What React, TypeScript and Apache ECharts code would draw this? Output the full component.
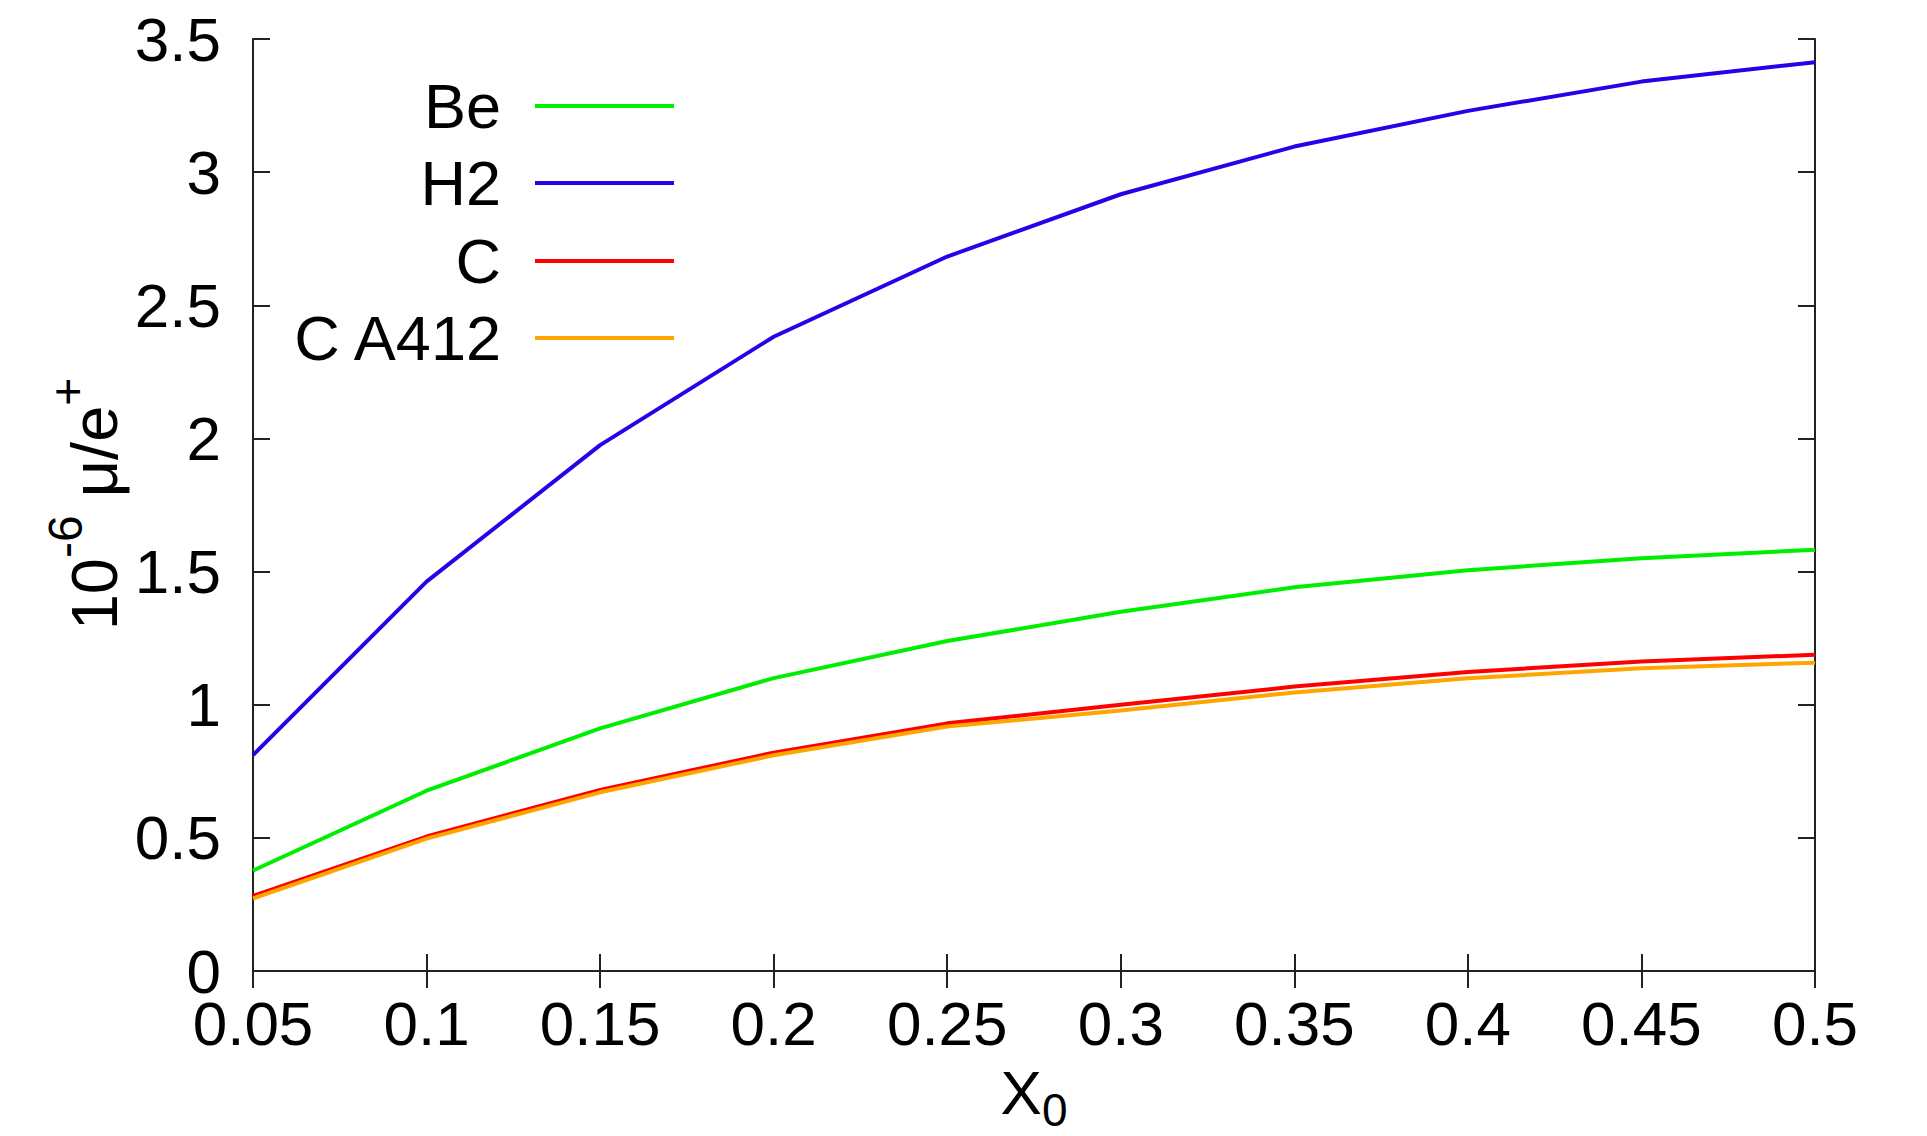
import React, { useEffect, useRef } from "react";
import * as echarts from "echarts";

const X_VALUES = [0.05, 0.1, 0.15, 0.2, 0.25, 0.3, 0.35, 0.4, 0.45, 0.5];
const BE = [0.377, 0.677, 0.911, 1.1, 1.239, 1.349, 1.441, 1.505, 1.55, 1.582];
const H2 = [0.811, 1.462, 1.975, 2.382, 2.683, 2.917, 3.096, 3.23, 3.34, 3.413];
const C = [0.282, 0.505, 0.68, 0.82, 0.93, 1.0, 1.068, 1.123, 1.162, 1.188];
const C_A412 = [0.272, 0.497, 0.671, 0.81, 0.918, 0.978, 1.046, 1.099, 1.137, 1.158];

const SERIES_NAMES = ["Be", "H2", "C", "C A412"];
const SERIES_VALUES = [BE, H2, C, C_A412];
const SERIES_COLORS = ["#00ee00", "#2a00e8", "#ff0000", "#ffa500"];

const FONT = '"Liberation Sans", Arial, sans-serif';

function measure(text: string, size: number): number {
  const ctx = document.createElement("canvas").getContext("2d");
  if (!ctx) return text.length * size * 0.55;
  ctx.font = `${size}px "Liberation Sans"`;
  return ctx.measureText(text).width;
}

export default function App() {
  const ref = useRef<HTMLDivElement>(null);

  useEffect(() => {
    if (!ref.current) return;
    const chart = echarts.init(ref.current, undefined, { renderer: "svg" });

    const gridLeft = 253;
    const gridRight = 1815;
    const gridTop = 39;
    const gridBottom = 971;

    const frame = { show: true, lineStyle: { color: "#222", width: 2 } };
    const tick = { show: true, inside: true, length: 17, lineStyle: { color: "#222", width: 2 } };
    const labelStyle = { color: "#000", fontSize: 62, fontFamily: FONT };

    // y-axis name pieces
    const big = 62;
    const yBig = 65;
    const ySmall = 48;
    const small = 46;
    const w10 = measure("10", yBig);
    const wExp = measure("-6", ySmall);
    const wMid = measure(" \u03bc/e", yBig);
    const wPlus = measure("+", ySmall);
    const total = w10 + wExp + wMid + wPlus;
    const yNameCenterY = 504;
    const yNameStart = yNameCenterY + total / 2;

    // x-axis name pieces
    const wX = measure("X", big);
    const w0 = measure("0", small);
    const xNameStart = (gridLeft + gridRight) / 2 - (wX + w0) / 2;

    const legendGraphics: any[] = [];
    const legendRows = [106, 183, 261, 338];
    SERIES_NAMES.forEach((name, i) => {
      legendGraphics.push({
        type: "text",
        x: 501,
        y: legendRows[i],
        style: {
          text: name,
          fill: "#000",
          font: `63px ${FONT}`,
          align: "right",
          verticalAlign: "middle",
        },
      });
      legendGraphics.push({
        type: "line",
        shape: { x1: 535, y1: legendRows[i], x2: 674, y2: legendRows[i] },
        style: { stroke: SERIES_COLORS[i], lineWidth: 4 },
      });
    });

    const option: any = {
      animation: false,
      backgroundColor: "#fff",
      grid: {
        left: gridLeft,
        top: gridTop,
        width: gridRight - gridLeft,
        height: gridBottom - gridTop,
        containLabel: false,
      },
      xAxis: [
        {
          type: "value",
          position: "bottom",
          min: 0.05,
          max: 0.5,
          interval: 0.05,
          axisLine: frame,
          axisTick: tick,
          splitLine: { show: false },
          axisLabel: {
            ...labelStyle,
            margin: 21,
            formatter: (v: number) => String(+v.toFixed(2)),
          },
        },
        {
          type: "value",
          position: "top",
          min: 0.05,
          max: 0.5,
          interval: 0.05,
          axisLine: frame,
          axisTick: tick,
          splitLine: { show: false },
          axisLabel: { show: false },
        },
      ],
      yAxis: [
        {
          type: "value",
          position: "left",
          min: 0,
          max: 3.5,
          interval: 0.5,
          axisLine: frame,
          axisTick: tick,
          splitLine: { show: false },
          axisLabel: {
            ...labelStyle,
            margin: 32,
            formatter: (v: number) => String(+v.toFixed(2)),
          },
        },
        {
          type: "value",
          position: "right",
          min: 0,
          max: 3.5,
          interval: 0.5,
          axisLine: frame,
          axisTick: tick,
          splitLine: { show: false },
          axisLabel: { show: false },
        },
      ],
      series: SERIES_NAMES.map((name, i) => ({
        name,
        type: "line",
        xAxisIndex: 0,
        yAxisIndex: 0,
        showSymbol: false,
        symbol: "none",
        data: X_VALUES.map((x, j) => [x, SERIES_VALUES[i][j]]),
        lineStyle: { color: SERIES_COLORS[i], width: 4 },
        itemStyle: { color: SERIES_COLORS[i] },
        z: 2 + i,
      })),
      graphic: [
        ...legendGraphics,
        {
          type: "group",
          x: 94,
          y: yNameStart,
          rotation: Math.PI / 2,
          children: [
            {
              type: "text",
              x: 0,
              y: 0,
              style: { text: "10", fill: "#000", font: `${yBig}px ${FONT}`, align: "left", verticalAlign: "middle" },
            },
            {
              type: "text",
              x: w10,
              y: -29,
              style: { text: "-6", fill: "#000", font: `${ySmall}px ${FONT}`, align: "left", verticalAlign: "middle" },
            },
            {
              type: "text",
              x: w10 + wExp,
              y: 0,
              style: { text: " \u03bc/e", fill: "#000", font: `${yBig}px ${FONT}`, align: "left", verticalAlign: "middle" },
            },
            {
              type: "text",
              x: w10 + wExp + wMid,
              y: -27,
              style: { text: "+", fill: "#000", font: `${ySmall}px ${FONT}`, align: "left", verticalAlign: "middle" },
            },
          ],
        },
        {
          type: "text",
          x: xNameStart,
          y: 1092,
          style: { text: "X", fill: "#000", font: `${big}px ${FONT}`, align: "left", verticalAlign: "middle" },
        },
        {
          type: "text",
          x: xNameStart + wX,
          y: 1110,
          style: { text: "0", fill: "#000", font: `${small}px ${FONT}`, align: "left", verticalAlign: "middle" },
        },
      ],
    };

    chart.setOption(option);
    return () => chart.dispose();
  }, []);

  return (
    <div
      ref={ref}
      style={{ position: "fixed", left: 0, top: 0, width: 1927, height: 1136, background: "#fff" }}
    />
  );
}
